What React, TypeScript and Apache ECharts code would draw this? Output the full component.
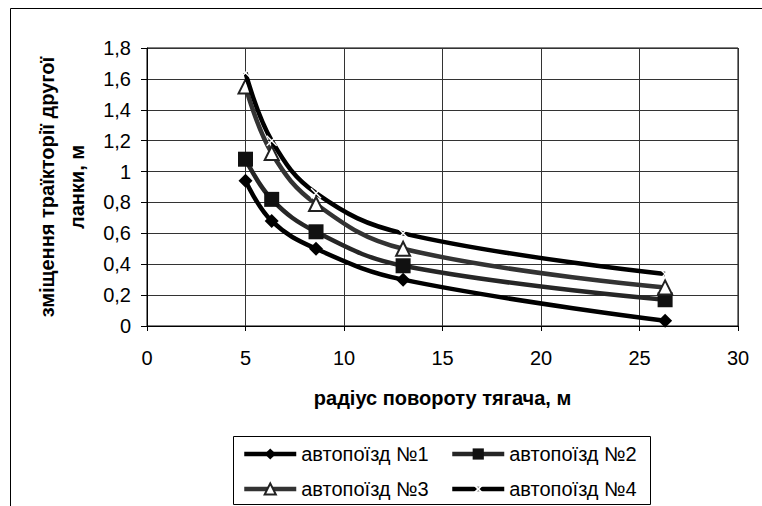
import React, { useEffect, useRef } from "react";
import * as echarts from "echarts";

const radii = [5, 6.33, 8.58, 13, 26.3];
const train1 = [0.94, 0.68, 0.5, 0.3, 0.034];
const train2 = [1.08, 0.82, 0.61, 0.39, 0.17];
const train3 = [1.55, 1.12, 0.79, 0.5, 0.25];
const train4 = [1.64, 1.2, 0.86, 0.6, 0.337];
const seriesNames = ["автопоїзд №1", "автопоїзд №2", "автопоїзд №3", "автопоїзд №4"];
const xTitle = "радіус повороту тягача, м";
const yTitle = "зміщення траїкторії другої\nланки, м";

const FONT = "'Liberation Sans', Arial, sans-serif";

export default function App() {
  const ref = useRef<HTMLDivElement>(null);
  useEffect(() => {
    document.body.style.margin = "0";
    const chart = echarts.init(ref.current!, null, { renderer: "svg" });
    const pair = (ys: number[]) => radii.map((x, i) => [x, ys[i]]);
    const crossPath = "path://M0,0L10,10M10,0L0,10";
    const legendText = { fontFamily: FONT, fontSize: 20, color: "#000" };
    const mkLegend = (name: string, left: number, top: number) => ({
      data: [name],
      left,
      top,
      padding: 0,
      itemWidth: 52,
      itemHeight: 14,
      itemGap: 5,
      textStyle: legendText,
      selectedMode: false,
      lineStyle: { width: 4.5 },
    });
    chart.setOption({
      animation: false,
      backgroundColor: "#fff",
      textStyle: { fontFamily: FONT },
      grid: {
        left: 147,
        top: 48,
        right: 24,
        bottom: 180,
        show: true,
        borderColor: "#000",
        borderWidth: 1,
      },
      xAxis: {
        type: "value",
        min: 0,
        max: 30,
        interval: 5,
        name: xTitle,
        nameLocation: "middle",
        nameGap: 62,
        nameTextStyle: { fontFamily: FONT, fontSize: 20, fontWeight: "bold", color: "#000" },
        axisLine: { show: true, lineStyle: { color: "#000", width: 1 } },
        axisTick: { show: true, length: 5, lineStyle: { color: "#000" } },
        axisLabel: { fontFamily: FONT, fontSize: 20, color: "#000", margin: 22 },
        splitLine: { show: true, lineStyle: { color: "#333", width: 1 } },
      },
      yAxis: {
        type: "value",
        min: 0,
        max: 1.8,
        interval: 0.2,
        name: yTitle,
        nameLocation: "middle",
        nameGap: 53,
        nameTextStyle: {
          fontFamily: FONT,
          fontSize: 20,
          fontWeight: "bold",
          color: "#000",
          lineHeight: 30,
          align: "center",
        },
        axisLine: { show: true, lineStyle: { color: "#000", width: 1 } },
        axisTick: { show: true, length: 6, lineStyle: { color: "#000" } },
        axisLabel: {
          fontFamily: FONT,
          fontSize: 20,
          color: "#000",
          margin: 16,
          formatter: (v: number) => String(Math.round(v * 10) / 10).replace(".", ","),
        },
        splitLine: { show: true, lineStyle: { color: "#333", width: 1 } },
      },
      legend: [
        mkLegend(seriesNames[0], 242, 444),
        mkLegend(seriesNames[1], 450, 444),
        mkLegend(seriesNames[2], 242, 479),
        mkLegend(seriesNames[3], 450, 479),
      ],
      graphic: [
        {
          type: "rect",
          shape: { x: 10.5, y: 8.5, width: 800, height: 600 },
          style: { fill: "none", stroke: "#000", lineWidth: 1 },
          silent: true,
          z: -10,
        },
        {
          type: "rect",
          shape: { x: 233.5, y: 436.5, width: 417, height: 68 },
          style: { fill: "none", stroke: "#000", lineWidth: 1 },
          silent: true,
        },
      ],
      series: [
        {
          name: seriesNames[0],
          type: "line",
          data: pair(train1),
          smooth: 0.4,
          symbol: "diamond",
          symbolSize: 14,
          lineStyle: { color: "#000", width: 4.5 },
          itemStyle: { color: "#000" },
          z: 3,
        },
        {
          name: seriesNames[1],
          type: "line",
          data: pair(train2),
          smooth: 0.4,
          symbol: "rect",
          symbolSize: 15,
          lineStyle: { color: "#262626", width: 4.5 },
          itemStyle: { color: "#111" },
          z: 3,
        },
        {
          name: seriesNames[2],
          type: "line",
          data: pair(train3),
          smooth: 0.4,
          symbol: "triangle",
          symbolSize: 14,
          lineStyle: { color: "#333", width: 4.5 },
          itemStyle: { color: "#fff", borderColor: "#222", borderWidth: 2 },
          z: 3,
        },
        {
          name: seriesNames[3],
          type: "line",
          data: pair(train4),
          smooth: 0.4,
          symbol: crossPath,
          symbolSize: 10,
          lineStyle: { color: "#000", width: 4.5 },
          itemStyle: { color: "#fff", borderColor: "#fff", borderWidth: 1.5 },
          z: 4,
        },
      ],
    });
    return () => chart.dispose();
  }, []);
  return <div ref={ref} style={{ width: 762, height: 506 }} />;
}
